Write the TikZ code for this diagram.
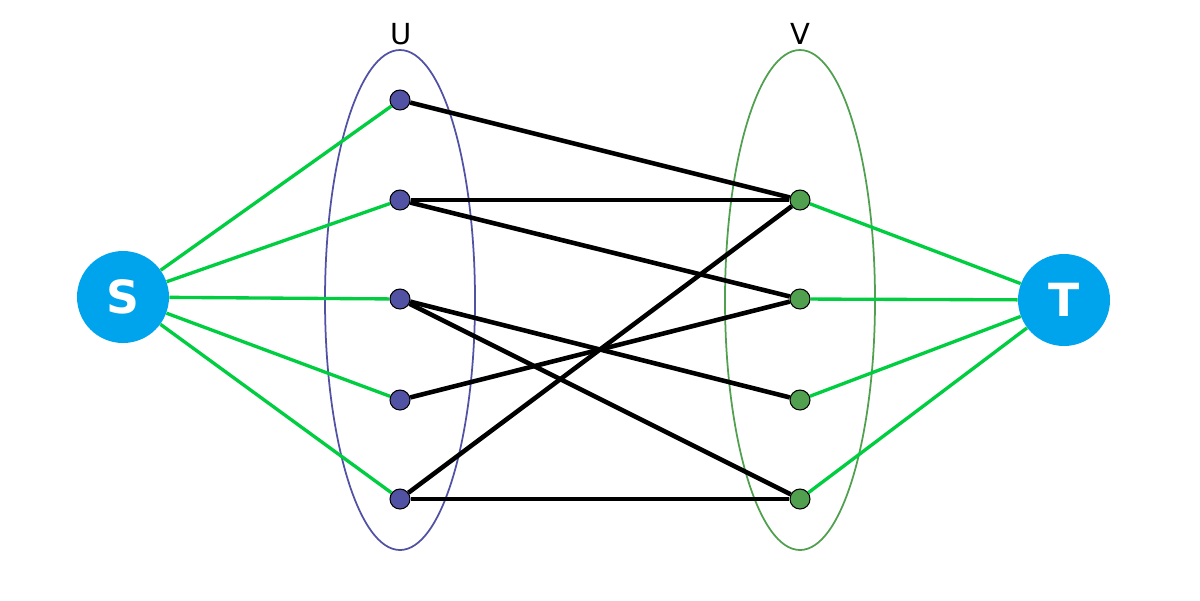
\documentclass[tikz,border=0pt]{standalone}
\usepackage{fontspec}
\setmainfont{DejaVu Sans}
\usetikzlibrary{arrows.meta}
\definecolor{termblue}{RGB}{0,164,236}
\definecolor{setU}{RGB}{82,82,165}
\definecolor{setV}{RGB}{80,160,80}
\definecolor{flowgreen}{RGB}{0,206,64}

\begin{document}
\begin{tikzpicture}[x=0.02cm, y=-0.02cm,
	term/.style={circle, fill=termblue, minimum size=92*0.02cm, inner sep=0pt, text=white, font=\fontsize{26}{26}\selectfont\bfseries},
	vert/.style={circle, draw=black, line width=0.6pt, minimum size=20*0.02cm, inner sep=0pt},
	flow/.style={flowgreen, line width=1.9pt},
	match/.style={black, line width=2.6pt}]
	\useasboundingbox (0,0) rectangle (1200,600);
	% the two vertex sets
	\draw[setU, line width=1pt] (400,300) ellipse [x radius=75, y radius=250];
	\draw[setV, line width=1pt] (800,300) ellipse [x radius=75, y radius=250];
	\node[font=\fontsize{16.5}{16.5}\selectfont] (labU) at (401,34) {U};
	\node[font=\fontsize{16.5}{16.5}\selectfont] (labV) at (800,34) {V};
	% source and sink
	\node[term] (S) at (123,297) {S};
	\node[term] (T) at (1064,300) {T};
	% vertices
	\foreach \i/\y in {1/100,2/200,3/299,4/400,5/499} {\node[vert, fill=setU] (u\i) at (400,\y) {};}
	\foreach \i/\y in {1/200,2/299,3/400,4/499} {\node[vert, fill=setV] (v\i) at (800,\y) {};}
	% green edges from S and into T
	\foreach \i in {1,...,5} {\draw[flow] (S) -- (u\i);}
	\foreach \i in {1,...,4} {\draw[flow] (v\i) -- (T);}
	% black edges between U and V
	\foreach \a/\b in {1/1,2/1,2/2,3/3,3/4,4/2,5/1,5/4} {\draw[match] (u\a) -- (v\b);}
\end{tikzpicture}
\end{document}
